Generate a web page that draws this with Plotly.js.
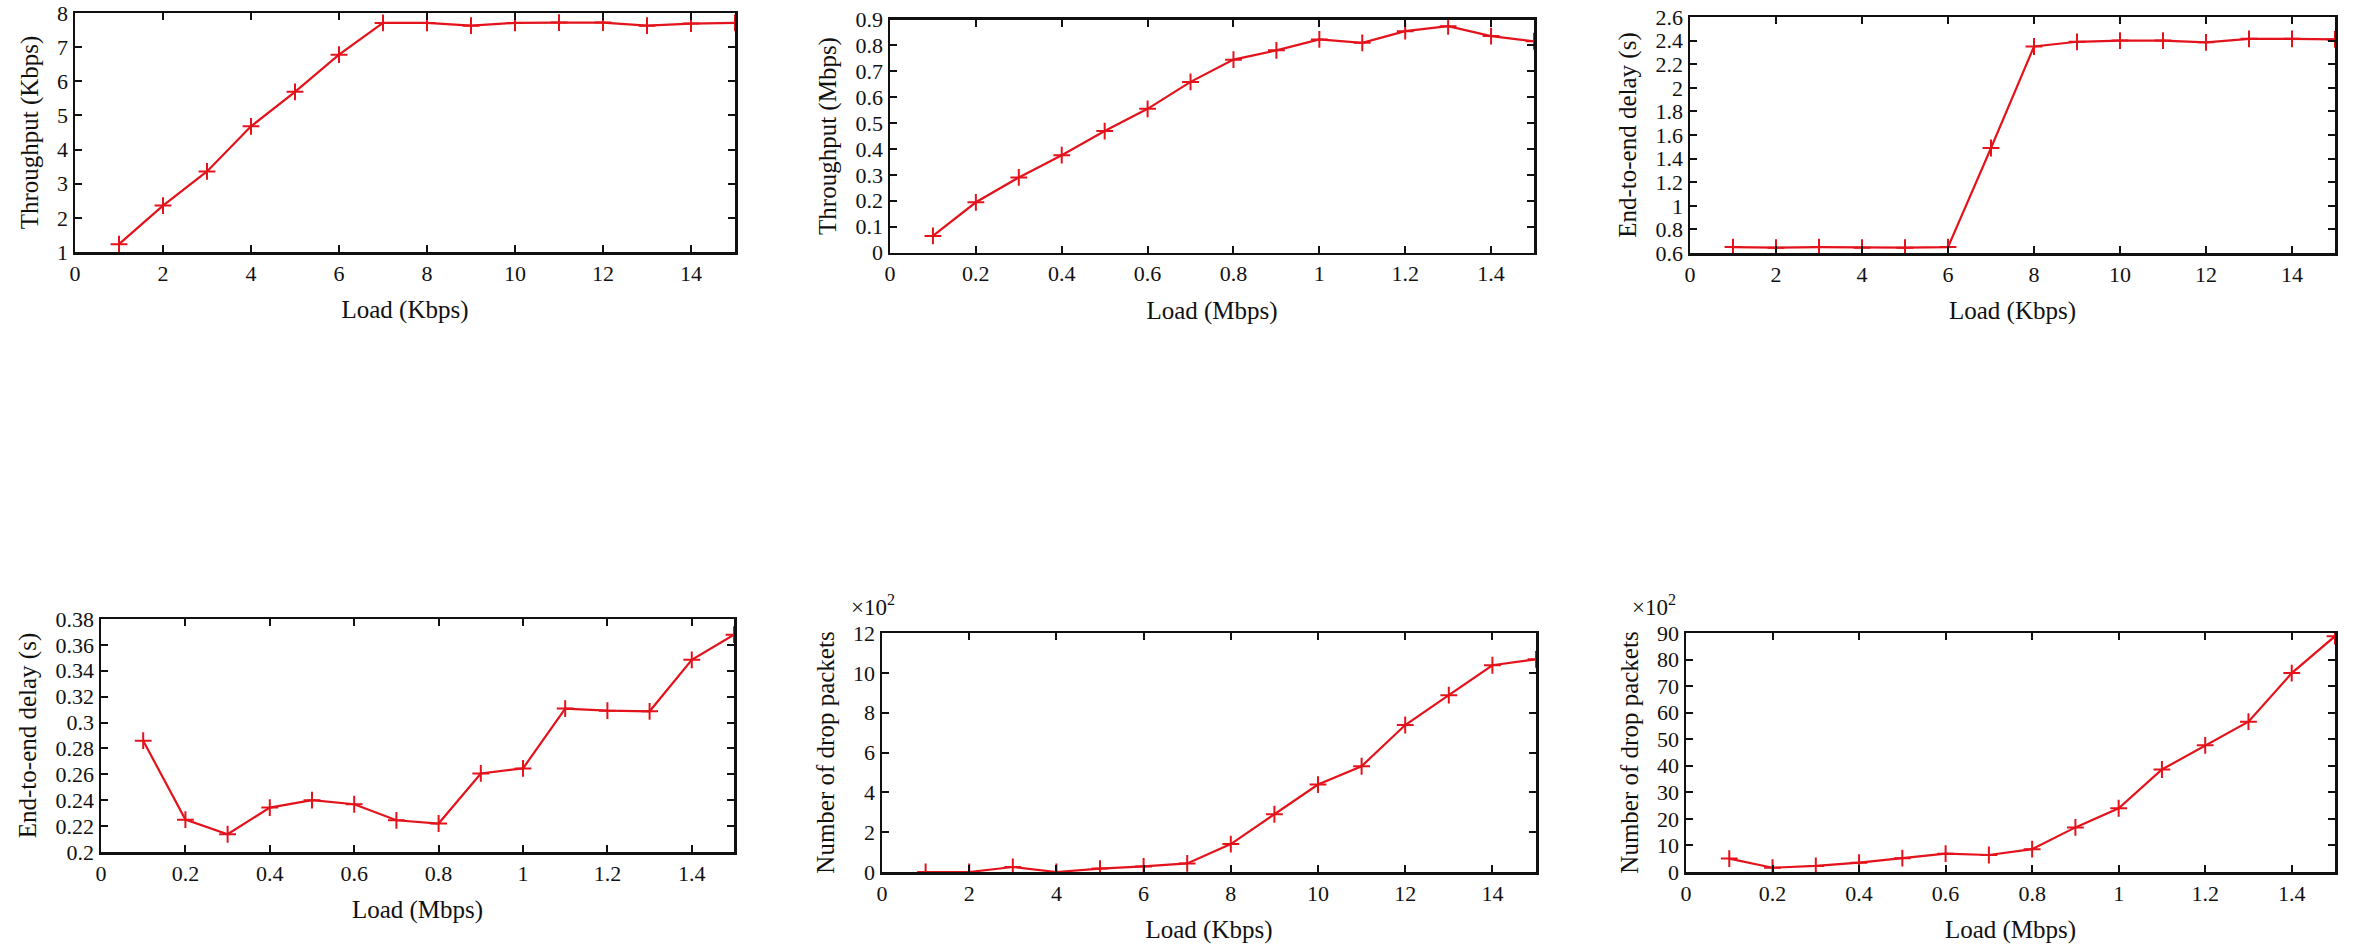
<!DOCTYPE html>
<html>
<head>
<meta charset="utf-8">
<script src="https://cdn.plot.ly/plotly-3.0.1.min.js"></script>
<style>
html,body{margin:0;padding:0;background:#fff;}
#chart{width:2360px;height:951px;}
</style>
</head>
<body>
<div id="chart"></div>
<script>
// ---- data ----
const loadKbps = [1,2,3,4,5,6,7,8,9,10,11,12,13,14,15];
const loadMbps = [0.1,0.2,0.3,0.4,0.5,0.6,0.7,0.8,0.9,1.0,1.1,1.2,1.3,1.4,1.5];

const throughputKbps = [1.23,2.36,3.36,4.68,5.69,6.78,7.71,7.71,7.63,7.71,7.72,7.72,7.63,7.69,7.71];
const throughputMbps = [0.064,0.194,0.29,0.376,0.469,0.555,0.659,0.745,0.781,0.823,0.81,0.855,0.874,0.836,0.816];
const delayKbps = [0.65,0.645,0.65,0.645,0.645,0.65,1.49,2.35,2.39,2.40,2.40,2.385,2.415,2.415,2.41];
const delayMbps = [0.286,0.225,0.2137,0.2343,0.240,0.2369,0.2245,0.222,0.2607,0.2646,0.3108,0.3092,0.3087,0.3485,0.3679];
const dropKbps = [0,0,0.25,0,0.17,0.28,0.43,1.40,2.90,4.39,5.31,7.38,8.88,10.38,10.68];
const dropMbps = [5.05,1.6,2.3,3.5,5.2,6.9,6.4,8.6,16.8,24.0,38.6,47.7,56.6,74.9,88.8];

const xTitleKbps = 'Load (Kbps)';
const xTitleMbps = 'Load (Mbps)';
const yTitles = ['Throughput (Kbps)','Throughput (Mbps)','End-to-end delay (s)','End-to-end delay (s)','Number of drop packets','Number of drop packets'];
const scaleLabel = '×10<sup>2</sup>';

// ---- styling ----
const W = 2360, H = 951;
const RED = '#e3121b';
const FONT = 'Liberation Serif, Times New Roman, serif';

function trace(x, y, idx){
  const s = idx === 1 ? '' : String(idx);
  return {
    x: x, y: y, xaxis: 'x' + s, yaxis: 'y' + s,
    type: 'scatter', mode: 'lines+markers',
    line: {color: RED, width: 2.2},
    marker: {symbol: 'cross-thin-open', size: 12, color: RED, line: {color: RED, width: 2}},
    showlegend: false, hoverinfo: 'x+y'
  };
}

const data = [
  trace(loadKbps, throughputKbps, 1),
  trace(loadMbps, throughputMbps, 2),
  trace(loadKbps, delayKbps, 3),
  trace(loadMbps, delayMbps, 4),
  trace(loadKbps, dropKbps, 5),
  trace(loadMbps, dropMbps, 6)
];

// pixel boxes [left, right, top, bottom]
const boxes = [
  [75, 735, 13, 252],
  [890, 1534, 19.5, 252.5],
  [1690, 2335, 17, 253],
  [101, 734, 619, 852],
  [882, 1536, 633, 872],
  [1686, 2335, 633, 872]
];
const xr = [[0,15],[0,1.5],[0,15],[0,1.5],[0,15],[0,1.5]];
const xd = [2,0.2,2,0.2,2,0.2];
const yr = [[1,8],[0,0.9],[0.6,2.6],[0.2,0.38],[0,12],[0,90]];
const yd = [1,0.1,0.2,0.02,2,10];
const xt = [xTitleKbps,xTitleMbps,xTitleKbps,xTitleMbps,xTitleKbps,xTitleMbps];

const layout = {
  width: W, height: H,
  margin: {l:0, r:0, t:0, b:0},
  paper_bgcolor: '#fff', plot_bgcolor: '#fff',
  font: {family: FONT, size: 22, color: '#111'},
  showlegend: false,
  annotations: [
    {text: scaleLabel, xref:'paper', yref:'paper', x: 873/W, y: 1-605/H, showarrow:false, font:{family:FONT,size:23,color:'#111'}},
    {text: scaleLabel, xref:'paper', yref:'paper', x: 1678/W, y: 1-605/H, showarrow:false, font:{family:FONT,size:23,color:'#111'}}
  ]
};

boxes.forEach((b, i) => {
  const s = i === 0 ? '' : String(i+1);
  layout['xaxis' + s] = {
    domain: [b[0]/W, b[1]/W],
    anchor: 'y' + s,
    range: xr[i], dtick: xd[i], tick0: 0,
    showline: true, linecolor: '#111', linewidth: 2.5, mirror: 'allticks',
    ticks: 'inside', ticklen: 7, tickwidth: 2, tickcolor: '#111',
    showgrid: false, zeroline: false,
    tickfont: {family: FONT, size: 22, color: '#111'},
    title: {text: xt[i], font: {family: FONT, size: 25, color: '#111'}, standoff: 16}
  };
  layout['yaxis' + s] = {
    domain: [1 - b[3]/H, 1 - b[2]/H],
    anchor: 'x' + s,
    range: yr[i], dtick: yd[i], tick0: yr[i][0],
    showline: true, linecolor: '#111', linewidth: 2.5, mirror: 'allticks',
    ticks: 'inside', ticklen: 7, tickwidth: 2, tickcolor: '#111',
    showgrid: false, zeroline: false,
    tickfont: {family: FONT, size: 22, color: '#111'},
    title: {text: yTitles[i], font: {family: FONT, size: 25, color: '#111'}, standoff: 12}
  };
});

Plotly.newPlot('chart', data, layout, {displayModeBar: false, staticPlot: true});
</script>
</body>
</html>
